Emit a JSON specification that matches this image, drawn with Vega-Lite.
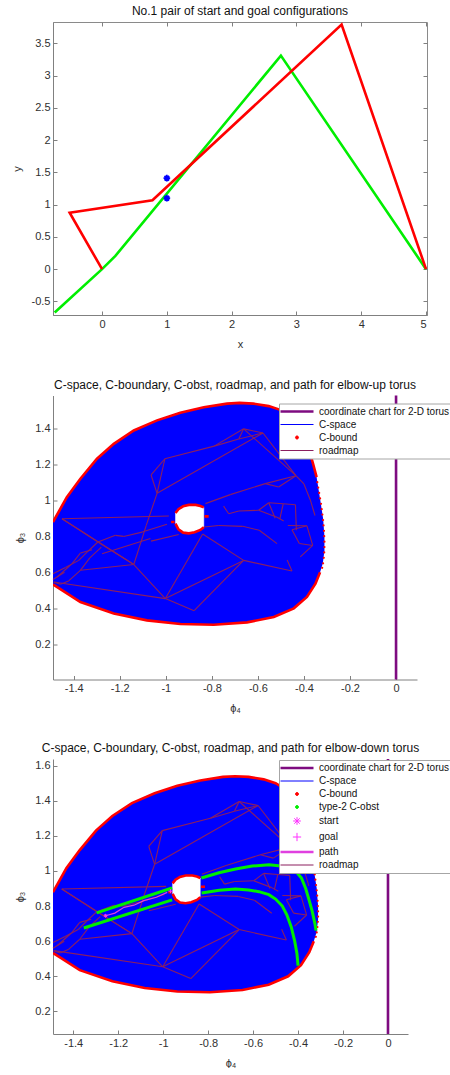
{
  "$schema": "https://vega.github.io/schema/vega-lite/v6.json",
  "background": "white",
  "padding": {"left": 10, "top": 4, "right": 0, "bottom": 0},
  "spacing": 28.5,
  "datasets": {
    "arm": [
      {"pose": "start", "i": 0, "x": -0.731, "y": -0.670},
      {"pose": "start", "i": 1, "x": 0, "y": 0},
      {"pose": "start", "i": 2, "x": 0.206, "y": 0.206},
      {"pose": "start", "i": 3, "x": 2.760, "y": 3.310},
      {"pose": "start", "i": 4, "x": 5, "y": 0},
      {"pose": "goal", "i": 0, "x": 0, "y": 0},
      {"pose": "goal", "i": 1, "x": -0.500, "y": 0.876},
      {"pose": "goal", "i": 2, "x": 0.778, "y": 1.067},
      {"pose": "goal", "i": 3, "x": 3.697, "y": 3.790},
      {"pose": "goal", "i": 4, "x": 5, "y": 0}
    ],
    "obstacles": [
      {"x": 1.0, "y": 1.41},
      {"x": 1.0, "y": 1.10}
    ],
    "cspace": [
      {"series": "C-space", "i": 1, "x": -1.490, "y": 0.879},
      {"series": "C-space", "i": 2, "x": -1.430, "y": 1.017},
      {"series": "C-space", "i": 3, "x": -1.371, "y": 1.119},
      {"series": "C-space", "i": 4, "x": -1.299, "y": 1.230},
      {"series": "C-space", "i": 5, "x": -1.226, "y": 1.313},
      {"series": "C-space", "i": 6, "x": -1.139, "y": 1.387},
      {"series": "C-space", "i": 7, "x": -1.038, "y": 1.443},
      {"series": "C-space", "i": 8, "x": -0.937, "y": 1.485},
      {"series": "C-space", "i": 9, "x": -0.835, "y": 1.516},
      {"series": "C-space", "i": 10, "x": -0.734, "y": 1.536},
      {"series": "C-space", "i": 11, "x": -0.680, "y": 1.540},
      {"series": "C-space", "i": 12, "x": -0.620, "y": 1.536},
      {"series": "C-space", "i": 13, "x": -0.553, "y": 1.522},
      {"series": "C-space", "i": 14, "x": -0.500, "y": 1.500},
      {"series": "C-space", "i": 15, "x": -0.450, "y": 1.460},
      {"series": "C-space", "i": 16, "x": -0.410, "y": 1.390},
      {"series": "C-space", "i": 17, "x": -0.380, "y": 1.290},
      {"series": "C-space", "i": 18, "x": -0.360, "y": 1.200},
      {"series": "C-space", "i": 19, "x": -0.345, "y": 1.128},
      {"series": "C-space", "i": 20, "x": -0.329, "y": 1.000},
      {"series": "C-space", "i": 21, "x": -0.317, "y": 0.900},
      {"series": "C-space", "i": 22, "x": -0.311, "y": 0.800},
      {"series": "C-space", "i": 23, "x": -0.311, "y": 0.720},
      {"series": "C-space", "i": 24, "x": -0.318, "y": 0.650},
      {"series": "C-space", "i": 25, "x": -0.330, "y": 0.600},
      {"series": "C-space", "i": 26, "x": -0.350, "y": 0.537},
      {"series": "C-space", "i": 27, "x": -0.387, "y": 0.463},
      {"series": "C-space", "i": 28, "x": -0.444, "y": 0.400},
      {"series": "C-space", "i": 29, "x": -0.531, "y": 0.352},
      {"series": "C-space", "i": 30, "x": -0.647, "y": 0.322},
      {"series": "C-space", "i": 31, "x": -0.792, "y": 0.309},
      {"series": "C-space", "i": 32, "x": -0.937, "y": 0.313},
      {"series": "C-space", "i": 33, "x": -1.082, "y": 0.333},
      {"series": "C-space", "i": 34, "x": -1.226, "y": 0.371},
      {"series": "C-space", "i": 35, "x": -1.371, "y": 0.435},
      {"series": "C-space", "i": 36, "x": -1.490, "y": 0.533}
    ],
    "hole": [
      {"i": 1, "x": -0.958, "y": 0.870},
      {"i": 2, "x": -0.958, "y": 0.929},
      {"i": 3, "x": -0.945, "y": 0.950},
      {"i": 4, "x": -0.925, "y": 0.966},
      {"i": 5, "x": -0.900, "y": 0.974},
      {"i": 6, "x": -0.870, "y": 0.974},
      {"i": 7, "x": -0.850, "y": 0.968},
      {"i": 8, "x": -0.835, "y": 0.960},
      {"i": 9, "x": -0.835, "y": 0.850},
      {"i": 10, "x": -0.850, "y": 0.835},
      {"i": 11, "x": -0.875, "y": 0.822},
      {"i": 12, "x": -0.900, "y": 0.816},
      {"i": 13, "x": -0.925, "y": 0.820},
      {"i": 14, "x": -0.945, "y": 0.838}
    ],
    "cbound": [
      {"series": "C-bound", "part": "outer-top", "i": 1, "x": -1.490, "y": 0.879},
      {"series": "C-bound", "part": "outer-top", "i": 2, "x": -1.430, "y": 1.017},
      {"series": "C-bound", "part": "outer-top", "i": 3, "x": -1.371, "y": 1.119},
      {"series": "C-bound", "part": "outer-top", "i": 4, "x": -1.299, "y": 1.230},
      {"series": "C-bound", "part": "outer-top", "i": 5, "x": -1.226, "y": 1.313},
      {"series": "C-bound", "part": "outer-top", "i": 6, "x": -1.139, "y": 1.387},
      {"series": "C-bound", "part": "outer-top", "i": 7, "x": -1.038, "y": 1.443},
      {"series": "C-bound", "part": "outer-top", "i": 8, "x": -0.937, "y": 1.485},
      {"series": "C-bound", "part": "outer-top", "i": 9, "x": -0.835, "y": 1.516},
      {"series": "C-bound", "part": "outer-top", "i": 10, "x": -0.734, "y": 1.536},
      {"series": "C-bound", "part": "outer-top", "i": 11, "x": -0.680, "y": 1.540},
      {"series": "C-bound", "part": "outer-top", "i": 12, "x": -0.620, "y": 1.536},
      {"series": "C-bound", "part": "outer-top", "i": 13, "x": -0.553, "y": 1.522},
      {"series": "C-bound", "part": "outer-top", "i": 14, "x": -0.500, "y": 1.500},
      {"series": "C-bound", "part": "outer-top", "i": 15, "x": -0.450, "y": 1.460},
      {"series": "C-bound", "part": "outer-top", "i": 16, "x": -0.410, "y": 1.390},
      {"series": "C-bound", "part": "outer-top", "i": 17, "x": -0.380, "y": 1.290},
      {"series": "C-bound", "part": "outer-top", "i": 18, "x": -0.360, "y": 1.200},
      {"series": "C-bound", "part": "outer-top", "i": 19, "x": -0.345, "y": 1.128},
      {"series": "C-bound", "part": "outer-bottom", "i": 25, "x": -0.330, "y": 0.600},
      {"series": "C-bound", "part": "outer-bottom", "i": 26, "x": -0.350, "y": 0.537},
      {"series": "C-bound", "part": "outer-bottom", "i": 27, "x": -0.387, "y": 0.463},
      {"series": "C-bound", "part": "outer-bottom", "i": 28, "x": -0.444, "y": 0.400},
      {"series": "C-bound", "part": "outer-bottom", "i": 29, "x": -0.531, "y": 0.352},
      {"series": "C-bound", "part": "outer-bottom", "i": 30, "x": -0.647, "y": 0.322},
      {"series": "C-bound", "part": "outer-bottom", "i": 31, "x": -0.792, "y": 0.309},
      {"series": "C-bound", "part": "outer-bottom", "i": 32, "x": -0.937, "y": 0.313},
      {"series": "C-bound", "part": "outer-bottom", "i": 33, "x": -1.082, "y": 0.333},
      {"series": "C-bound", "part": "outer-bottom", "i": 34, "x": -1.226, "y": 0.371},
      {"series": "C-bound", "part": "outer-bottom", "i": 35, "x": -1.371, "y": 0.435},
      {"series": "C-bound", "part": "outer-bottom", "i": 36, "x": -1.490, "y": 0.533},
      {"series": "C-bound", "part": "hole-top", "i": 1, "x": -0.958, "y": 0.929},
      {"series": "C-bound", "part": "hole-top", "i": 2, "x": -0.945, "y": 0.950},
      {"series": "C-bound", "part": "hole-top", "i": 3, "x": -0.925, "y": 0.966},
      {"series": "C-bound", "part": "hole-top", "i": 4, "x": -0.900, "y": 0.974},
      {"series": "C-bound", "part": "hole-top", "i": 5, "x": -0.870, "y": 0.974},
      {"series": "C-bound", "part": "hole-top", "i": 6, "x": -0.850, "y": 0.968},
      {"series": "C-bound", "part": "hole-top", "i": 7, "x": -0.835, "y": 0.960},
      {"series": "C-bound", "part": "hole-bottom", "i": 1, "x": -0.835, "y": 0.850},
      {"series": "C-bound", "part": "hole-bottom", "i": 2, "x": -0.850, "y": 0.835},
      {"series": "C-bound", "part": "hole-bottom", "i": 3, "x": -0.875, "y": 0.822},
      {"series": "C-bound", "part": "hole-bottom", "i": 4, "x": -0.900, "y": 0.816},
      {"series": "C-bound", "part": "hole-bottom", "i": 5, "x": -0.925, "y": 0.820},
      {"series": "C-bound", "part": "hole-bottom", "i": 6, "x": -0.945, "y": 0.838},
      {"series": "C-bound", "part": "hole-bottom", "i": 7, "x": -0.958, "y": 0.870},
      {"series": "C-bound", "part": "dash-left", "i": 1, "x": -0.977, "y": 0.879},
      {"series": "C-bound", "part": "dash-left", "i": 2, "x": -0.962, "y": 0.879},
      {"series": "C-bound", "part": "dash-right", "i": 1, "x": -0.832, "y": 0.910},
      {"series": "C-bound", "part": "dash-right", "i": 2, "x": -0.814, "y": 0.910}
    ],
    "cboundDots": [
      {"series": "C-bound", "x": -0.342, "y": 1.100},
      {"series": "C-bound", "x": -0.338, "y": 1.070},
      {"series": "C-bound", "x": -0.334, "y": 1.040},
      {"series": "C-bound", "x": -0.330, "y": 1.010},
      {"series": "C-bound", "x": -0.326, "y": 0.980},
      {"series": "C-bound", "x": -0.323, "y": 0.950},
      {"series": "C-bound", "x": -0.320, "y": 0.920},
      {"series": "C-bound", "x": -0.317, "y": 0.890},
      {"series": "C-bound", "x": -0.315, "y": 0.860},
      {"series": "C-bound", "x": -0.313, "y": 0.830},
      {"series": "C-bound", "x": -0.312, "y": 0.800},
      {"series": "C-bound", "x": -0.311, "y": 0.770},
      {"series": "C-bound", "x": -0.311, "y": 0.740},
      {"series": "C-bound", "x": -0.312, "y": 0.710},
      {"series": "C-bound", "x": -0.314, "y": 0.680},
      {"series": "C-bound", "x": -0.317, "y": 0.650},
      {"series": "C-bound", "x": -0.321, "y": 0.625}
    ],
    "roadmap": [
      {"series": "roadmap", "x": -1.004, "y": 1.230, "x2": -0.790, "y2": 1.300},
      {"series": "roadmap", "x": -0.790, "y": 1.300, "x2": -0.662, "y2": 1.396},
      {"series": "roadmap", "x": -0.662, "y": 1.396, "x2": -0.578, "y2": 1.373},
      {"series": "roadmap", "x": -0.662, "y": 1.396, "x2": -0.683, "y2": 1.340},
      {"series": "roadmap", "x": -0.683, "y": 1.340, "x2": -0.578, "y2": 1.373},
      {"series": "roadmap", "x": -0.790, "y": 1.300, "x2": -0.683, "y2": 1.340},
      {"series": "roadmap", "x": -0.662, "y": 1.396, "x2": -0.435, "y2": 1.136},
      {"series": "roadmap", "x": -0.578, "y": 1.373, "x2": -0.435, "y2": 1.136},
      {"series": "roadmap", "x": -1.038, "y": 1.038, "x2": -0.578, "y2": 1.373},
      {"series": "roadmap", "x": -1.004, "y": 1.230, "x2": -1.064, "y2": 1.140},
      {"series": "roadmap", "x": -1.064, "y": 1.140, "x2": -1.038, "y2": 1.038},
      {"series": "roadmap", "x": -1.004, "y": 1.230, "x2": -1.038, "y2": 1.038},
      {"series": "roadmap", "x": -1.038, "y": 1.038, "x2": -1.085, "y2": 0.860},
      {"series": "roadmap", "x": -1.085, "y": 0.860, "x2": -1.139, "y2": 0.643},
      {"series": "roadmap", "x": -1.451, "y": 0.897, "x2": -0.987, "y2": 0.912},
      {"series": "roadmap", "x": -1.451, "y": 0.897, "x2": -1.295, "y2": 0.768},
      {"series": "roadmap", "x": -1.451, "y": 0.897, "x2": -1.139, "y2": 0.643},
      {"series": "roadmap", "x": -1.295, "y": 0.768, "x2": -1.139, "y2": 0.643},
      {"series": "roadmap", "x": -1.139, "y": 0.643, "x2": -1.371, "y2": 0.611},
      {"series": "roadmap", "x": -1.139, "y": 0.643, "x2": -1.002, "y2": 0.454},
      {"series": "roadmap", "x": -1.487, "y": 0.546, "x2": -1.002, "y2": 0.454},
      {"series": "roadmap", "x": -1.002, "y": 0.454, "x2": -0.877, "y2": 0.387},
      {"series": "roadmap", "x": -1.002, "y": 0.454, "x2": -0.662, "y2": 0.666},
      {"series": "roadmap", "x": -0.877, "y": 0.387, "x2": -0.662, "y2": 0.666},
      {"series": "roadmap", "x": -1.002, "y": 0.454, "x2": -0.840, "y2": 0.812},
      {"series": "roadmap", "x": -0.840, "y": 0.812, "x2": -0.662, "y2": 0.666},
      {"series": "roadmap", "x": -0.662, "y": 0.666, "x2": -0.452, "y2": 0.607},
      {"series": "roadmap", "x": -0.473, "y": 0.668, "x2": -0.452, "y2": 0.607},
      {"series": "roadmap", "x": -1.295, "y": 0.768, "x2": -1.219, "y2": 0.805},
      {"series": "roadmap", "x": -1.219, "y": 0.805, "x2": -1.183, "y2": 0.799},
      {"series": "roadmap", "x": -1.183, "y": 0.799, "x2": -1.103, "y2": 0.823},
      {"series": "roadmap", "x": -1.103, "y": 0.823, "x2": -0.995, "y2": 0.866},
      {"series": "roadmap", "x": -1.277, "y": 0.703, "x2": -1.067, "y2": 0.787},
      {"series": "roadmap", "x": -1.064, "y": 0.773, "x2": -0.944, "y2": 0.810},
      {"series": "roadmap", "x": -1.490, "y": 0.592, "x2": -1.436, "y2": 0.626},
      {"series": "roadmap", "x": -1.436, "y": 0.626, "x2": -1.378, "y2": 0.666},
      {"series": "roadmap", "x": -1.378, "y": 0.666, "x2": -1.342, "y2": 0.712},
      {"series": "roadmap", "x": -1.342, "y": 0.712, "x2": -1.295, "y2": 0.768},
      {"series": "roadmap", "x": -1.487, "y": 0.546, "x2": -1.458, "y2": 0.533},
      {"series": "roadmap", "x": -1.458, "y": 0.533, "x2": -1.422, "y2": 0.552},
      {"series": "roadmap", "x": -1.422, "y": 0.552, "x2": -1.371, "y2": 0.611},
      {"series": "roadmap", "x": -1.371, "y": 0.611, "x2": -1.330, "y2": 0.680},
      {"series": "roadmap", "x": -1.330, "y": 0.680, "x2": -1.280, "y2": 0.740},
      {"series": "roadmap", "x": -1.472, "y": 0.574, "x2": -1.407, "y2": 0.648},
      {"series": "roadmap", "x": -1.407, "y": 0.648, "x2": -1.371, "y2": 0.707},
      {"series": "roadmap", "x": -1.371, "y": 0.707, "x2": -1.320, "y2": 0.725},
      {"series": "roadmap", "x": -1.490, "y": 0.560, "x2": -1.440, "y2": 0.600},
      {"series": "roadmap", "x": -0.828, "y": 0.981, "x2": -0.720, "y2": 1.031},
      {"series": "roadmap", "x": -0.720, "y": 1.031, "x2": -0.568, "y2": 1.092},
      {"series": "roadmap", "x": -0.568, "y": 1.092, "x2": -0.510, "y2": 1.073},
      {"series": "roadmap", "x": -0.510, "y": 1.073, "x2": -0.435, "y2": 1.136},
      {"series": "roadmap", "x": -0.568, "y": 1.092, "x2": -0.435, "y2": 1.136},
      {"series": "roadmap", "x": -0.435, "y": 1.136, "x2": -0.400, "y2": 1.090},
      {"series": "roadmap", "x": -0.400, "y": 1.090, "x2": -0.372, "y2": 1.000},
      {"series": "roadmap", "x": -0.372, "y": 1.000, "x2": -0.352, "y2": 0.915},
      {"series": "roadmap", "x": -0.749, "y": 0.967, "x2": -0.727, "y2": 0.925},
      {"series": "roadmap", "x": -0.727, "y": 0.925, "x2": -0.683, "y2": 0.940},
      {"series": "roadmap", "x": -0.683, "y": 0.940, "x2": -0.597, "y2": 0.944},
      {"series": "roadmap", "x": -0.597, "y": 0.944, "x2": -0.553, "y2": 0.986},
      {"series": "roadmap", "x": -0.553, "y": 0.986, "x2": -0.490, "y2": 0.980},
      {"series": "roadmap", "x": -0.490, "y": 0.980, "x2": -0.437, "y2": 0.975},
      {"series": "roadmap", "x": -0.437, "y": 0.975, "x2": -0.433, "y2": 0.833},
      {"series": "roadmap", "x": -0.597, "y": 0.944, "x2": -0.517, "y2": 0.905},
      {"series": "roadmap", "x": -0.517, "y": 0.905, "x2": -0.488, "y2": 0.884},
      {"series": "roadmap", "x": -0.553, "y": 0.986, "x2": -0.525, "y2": 0.900},
      {"series": "roadmap", "x": -0.490, "y": 0.980, "x2": -0.505, "y2": 0.895},
      {"series": "roadmap", "x": -0.470, "y": 0.860, "x2": -0.387, "y2": 0.858},
      {"series": "roadmap", "x": -0.387, "y": 0.858, "x2": -0.362, "y2": 0.749},
      {"series": "roadmap", "x": -0.362, "y": 0.749, "x2": -0.416, "y2": 0.685},
      {"series": "roadmap", "x": -0.387, "y": 0.858, "x2": -0.452, "y2": 0.836},
      {"series": "roadmap", "x": -0.452, "y": 0.836, "x2": -0.420, "y2": 0.760},
      {"series": "roadmap", "x": -0.420, "y": 0.760, "x2": -0.362, "y2": 0.749},
      {"series": "roadmap", "x": -0.835, "y": 0.851, "x2": -0.770, "y2": 0.860},
      {"series": "roadmap", "x": -0.770, "y": 0.860, "x2": -0.666, "y2": 0.855},
      {"series": "roadmap", "x": -0.666, "y": 0.855, "x2": -0.594, "y2": 0.833},
      {"series": "roadmap", "x": -0.594, "y": 0.833, "x2": -0.517, "y2": 0.759}
    ],
    "chart": [
      {"series": "coordinate chart for 2-D torus", "i": 0, "x": 0, "y": -1},
      {"series": "coordinate chart for 2-D torus", "i": 1, "x": 0, "y": 3}
    ],
    "obst2": [
      {"series": "type-2 C-obst", "part": "upper-left", "i": 1, "x": -1.296, "y": 0.761},
      {"series": "type-2 C-obst", "part": "upper-left", "i": 2, "x": -0.960, "y": 0.903},
      {"series": "type-2 C-obst", "part": "lower-left", "i": 1, "x": -1.353, "y": 0.675},
      {"series": "type-2 C-obst", "part": "lower-left", "i": 2, "x": -0.960, "y": 0.835},
      {"series": "type-2 C-obst", "part": "upper-right", "i": 1, "x": -0.830, "y": 0.960},
      {"series": "type-2 C-obst", "part": "upper-right", "i": 2, "x": -0.752, "y": 0.990},
      {"series": "type-2 C-obst", "part": "upper-right", "i": 3, "x": -0.678, "y": 1.011},
      {"series": "type-2 C-obst", "part": "upper-right", "i": 4, "x": -0.604, "y": 1.028},
      {"series": "type-2 C-obst", "part": "upper-right", "i": 5, "x": -0.529, "y": 1.035},
      {"series": "type-2 C-obst", "part": "upper-right", "i": 6, "x": -0.455, "y": 1.025},
      {"series": "type-2 C-obst", "part": "upper-right", "i": 7, "x": -0.411, "y": 1.000},
      {"series": "type-2 C-obst", "part": "upper-right", "i": 8, "x": -0.385, "y": 0.960},
      {"series": "type-2 C-obst", "part": "upper-right", "i": 9, "x": -0.366, "y": 0.900},
      {"series": "type-2 C-obst", "part": "upper-right", "i": 10, "x": -0.350, "y": 0.830},
      {"series": "type-2 C-obst", "part": "upper-right", "i": 11, "x": -0.337, "y": 0.770},
      {"series": "type-2 C-obst", "part": "upper-right", "i": 12, "x": -0.325, "y": 0.700},
      {"series": "type-2 C-obst", "part": "upper-right", "i": 13, "x": -0.320, "y": 0.660},
      {"series": "type-2 C-obst", "part": "lower-right", "i": 1, "x": -0.829, "y": 0.875},
      {"series": "type-2 C-obst", "part": "lower-right", "i": 2, "x": -0.750, "y": 0.890},
      {"series": "type-2 C-obst", "part": "lower-right", "i": 3, "x": -0.678, "y": 0.897},
      {"series": "type-2 C-obst", "part": "lower-right", "i": 4, "x": -0.620, "y": 0.892},
      {"series": "type-2 C-obst", "part": "lower-right", "i": 5, "x": -0.574, "y": 0.882},
      {"series": "type-2 C-obst", "part": "lower-right", "i": 6, "x": -0.530, "y": 0.865},
      {"series": "type-2 C-obst", "part": "lower-right", "i": 7, "x": -0.500, "y": 0.840},
      {"series": "type-2 C-obst", "part": "lower-right", "i": 8, "x": -0.470, "y": 0.800},
      {"series": "type-2 C-obst", "part": "lower-right", "i": 9, "x": -0.450, "y": 0.750},
      {"series": "type-2 C-obst", "part": "lower-right", "i": 10, "x": -0.430, "y": 0.680},
      {"series": "type-2 C-obst", "part": "lower-right", "i": 11, "x": -0.415, "y": 0.600},
      {"series": "type-2 C-obst", "part": "lower-right", "i": 12, "x": -0.405, "y": 0.530},
      {"series": "type-2 C-obst", "part": "lower-right", "i": 13, "x": -0.400, "y": 0.460}
    ],
    "path": [
      {"series": "path", "i": 1, "x": -1.256, "y": 0.745},
      {"series": "path", "i": 2, "x": -1.215, "y": 0.760},
      {"series": "path", "i": 3, "x": -1.174, "y": 0.793},
      {"series": "path", "i": 4, "x": -1.130, "y": 0.805},
      {"series": "path", "i": 5, "x": -1.086, "y": 0.831},
      {"series": "path", "i": 6, "x": -1.030, "y": 0.850},
      {"series": "path", "i": 7, "x": -0.982, "y": 0.878}
    ],
    "ends": [
      {"series": "start", "x": -1.256, "y": 0.745},
      {"series": "goal", "x": -0.967, "y": 0.885}
    ]
  },
  "vconcat": [
    {
      "width": 374,
      "height": 293,
      "title": "No.1 pair of start and goal configurations",
      "view": {"stroke": "#8a8a8a", "strokeWidth": 1},
      "encoding": {
        "x": {"field": "x", "type": "quantitative", "scale": {"domain": [-0.757, 5.015], "nice": false, "zero": false},
              "axis": {"title": "x", "values": [0, 1, 2, 3, 4, 5], "labelExpr": "'' + datum.value"}},
        "y": {"field": "y", "type": "quantitative", "scale": {"domain": [-0.71, 3.83], "nice": false, "zero": false},
              "axis": {"title": "y", "values": [-0.5, 0, 0.5, 1, 1.5, 2, 2.5, 3, 3.5], "labelExpr": "'' + datum.value"}}
      },
      "layer": [
        {
          "data": {"name": "arm"},
          "mark": {"type": "line", "strokeWidth": 2.6, "clip": true},
          "encoding": {
            "color": {"field": "pose", "type": "nominal", "scale": {"domain": ["start", "goal"], "range": ["#00ee00", "#ff0000"]}, "legend": null},
            "order": {"field": "i"}
          }
        },
        {
          "data": {"name": "obstacles"},
          "mark": {"type": "point", "shape": "M-1,0L1,0M0,-1L0,1M-0.7,-0.7L0.7,0.7M-0.7,0.7L0.7,-0.7", "size": 44, "filled": false, "stroke": "#0000ff", "strokeWidth": 1.8, "opacity": 1},
          "encoding": {
            "x": {"field": "x", "type": "quantitative",
                  "axis": {"orient": "top", "title": null, "labels": false, "domain": false, "values": [0, 1, 2, 3, 4, 5]}},
            "y": {"field": "y", "type": "quantitative",
                  "axis": {"orient": "right", "title": null, "labels": false, "domain": false, "values": [-0.5, 0, 0.5, 1, 1.5, 2, 2.5, 3, 3.5]}}
          }
        }
      ],
      "resolve": {"axis": {"x": "independent", "y": "independent"}}
    },
    {
      "width": 364,
      "height": 284,
      "title": "C-space, C-boundary, C-obst, roadmap, and path for elbow-up torus",
      "encoding": {
        "x": {"field": "x", "type": "quantitative", "scale": {"domain": [-1.49, 0.091], "nice": false, "zero": false},
              "axis": {"title": "ϕ₄", "values": [-1.4, -1.2, -1, -0.8, -0.6, -0.4, -0.2, 0], "labelExpr": "'' + datum.value"}},
        "y": {"field": "y", "type": "quantitative", "scale": {"domain": [0.005, 1.581], "nice": false, "zero": false},
              "axis": {"title": "ϕ₃", "values": [0.2, 0.4, 0.6, 0.8, 1, 1.2, 1.4], "labelExpr": "'' + datum.value"}}
      },
      "layer": [
        {
          "data": {"name": "cspace"},
          "mark": {"type": "line", "filled": true, "strokeWidth": 0, "clip": true},
          "encoding": {
            "color": {"field": "series", "type": "nominal",
                      "scale": {"domain": ["coordinate chart for 2-D torus", "C-space", "C-bound", "roadmap"], "range": ["#7e0b80", "#0000ff", "#ff0000", "#8b1f5f"]},
                      "legend": {"legendX": 226, "legendY": 8,
                        "encode": {"symbols": {"update": {
                          "shape": {"signal": "datum.value === 'C-bound' || datum.value === 'type-2 C-obst' ? 'M-0.28,0a0.28,0.28 0 1,0 0.56,0a0.28,0.28 0 1,0 -0.56,0' : datum.value === 'start' ? 'M-0.7,0L0.7,0M0,-0.7L0,0.7M-0.5,-0.5L0.5,0.5M-0.5,0.5L0.5,-0.5' : datum.value === 'goal' ? 'M-0.75,0L0.75,0M0,-0.75L0,0.75' : 'M-3,0L3,0'"},
                          "fill": {"signal": "datum.value === 'C-bound' ? '#ff0000' : datum.value === 'type-2 C-obst' ? '#00ff00' : 'transparent'"},
                          "stroke": {"signal": "datum.value === 'coordinate chart for 2-D torus' ? '#7e0b80' : datum.value === 'C-space' ? '#3c3cff' : datum.value === 'roadmap' ? '#9a3d8e' : datum.value === 'path' ? '#ff1f8f' : datum.value === 'start' || datum.value === 'goal' ? '#ff3cff' : 'transparent'"},
                          "strokeWidth": {"signal": "datum.value === 'coordinate chart for 2-D torus' || datum.value === 'path' ? 2.5 : 1"},
                          "opacity": {"value": 1}
                        }}}}},
            "order": {"field": "i"}
          }
        },
        {
          "data": {"name": "hole"},
          "mark": {"type": "line", "fill": "#ffffff", "stroke": "#ffffff", "strokeWidth": 0.5},
          "encoding": {"order": {"field": "i"}}
        },
        {
          "data": {"name": "roadmap"},
          "mark": {"type": "rule", "strokeWidth": 1.1},
          "encoding": {"x2": {"field": "x2"}, "y2": {"field": "y2"}, "color": {"field": "series", "type": "nominal"}}
        },
        {
          "data": {"name": "cbound"},
          "mark": {"type": "line", "strokeWidth": 2.6, "clip": true},
          "encoding": {"detail": {"field": "part"}, "order": {"field": "i"}, "color": {"field": "series", "type": "nominal"}}
        },
        {
          "data": {"name": "cboundDots"},
          "mark": {"type": "circle", "size": 5, "opacity": 1},
          "encoding": {"color": {"field": "series", "type": "nominal"}}
        },
        {
          "data": {"name": "chart"},
          "mark": {"type": "line", "strokeWidth": 2.6, "clip": true},
          "encoding": {"order": {"field": "i"}, "color": {"field": "series", "type": "nominal"}}
        }
      ]
    },
    {
      "width": 355,
      "height": 275,
      "title": "C-space, C-boundary, C-obst, roadmap, and path for elbow-down torus",
      "encoding": {
        "x": {"field": "x", "type": "quantitative", "scale": {"domain": [-1.49, 0.089], "nice": false, "zero": false},
              "axis": {"title": "ϕ₄", "values": [-1.4, -1.2, -1, -0.8, -0.6, -0.4, -0.2, 0], "labelExpr": "'' + datum.value"}},
        "y": {"field": "y", "type": "quantitative", "scale": {"domain": [0.071, 1.638], "nice": false, "zero": false},
              "axis": {"title": "ϕ₃", "values": [0.2, 0.4, 0.6, 0.8, 1, 1.2, 1.4, 1.6], "labelExpr": "'' + datum.value"}}
      },
      "layer": [
        {
          "data": {"name": "cspace"},
          "mark": {"type": "line", "filled": true, "strokeWidth": 0, "clip": true},
          "encoding": {
            "color": {"field": "series", "type": "nominal",
                      "scale": {"domain": ["coordinate chart for 2-D torus", "C-space", "C-bound", "type-2 C-obst", "start", "goal", "path", "roadmap"],
                                "range": ["#7e0b80", "#0000ff", "#ff0000", "#00ee00", "#ff33ff", "#ff33ff", "#e040e0", "#8b1f5f"]},
                      "legend": {"legendX": 226, "legendY": 1,
                        "encode": {"symbols": {"update": {
                          "shape": {"signal": "datum.value === 'C-bound' || datum.value === 'type-2 C-obst' ? 'M-0.28,0a0.28,0.28 0 1,0 0.56,0a0.28,0.28 0 1,0 -0.56,0' : datum.value === 'start' ? 'M-0.7,0L0.7,0M0,-0.7L0,0.7M-0.5,-0.5L0.5,0.5M-0.5,0.5L0.5,-0.5' : datum.value === 'goal' ? 'M-0.75,0L0.75,0M0,-0.75L0,0.75' : 'M-3,0L3,0'"},
                          "fill": {"signal": "datum.value === 'C-bound' ? '#ff0000' : datum.value === 'type-2 C-obst' ? '#00ff00' : 'transparent'"},
                          "stroke": {"signal": "datum.value === 'coordinate chart for 2-D torus' ? '#7e0b80' : datum.value === 'C-space' ? '#3c3cff' : datum.value === 'roadmap' ? '#9a3d8e' : datum.value === 'path' ? '#ff1f8f' : datum.value === 'start' || datum.value === 'goal' ? '#ff3cff' : 'transparent'"},
                          "strokeWidth": {"signal": "datum.value === 'coordinate chart for 2-D torus' || datum.value === 'path' ? 2.5 : 1"},
                          "opacity": {"value": 1}
                        }}}}},
            "order": {"field": "i"}
          }
        },
        {
          "data": {"name": "hole"},
          "mark": {"type": "line", "fill": "#ffffff", "stroke": "#ffffff", "strokeWidth": 0.5},
          "encoding": {"order": {"field": "i"}}
        },
        {
          "data": {"name": "roadmap"},
          "mark": {"type": "rule", "strokeWidth": 1.1},
          "encoding": {"x2": {"field": "x2"}, "y2": {"field": "y2"}, "color": {"field": "series", "type": "nominal"}}
        },
        {
          "data": {"name": "cbound"},
          "mark": {"type": "line", "strokeWidth": 2.6, "clip": true},
          "encoding": {"detail": {"field": "part"}, "order": {"field": "i"}, "color": {"field": "series", "type": "nominal"}}
        },
        {
          "data": {"name": "cboundDots"},
          "mark": {"type": "circle", "size": 5, "opacity": 1},
          "encoding": {"color": {"field": "series", "type": "nominal"}}
        },
        {
          "data": {"name": "obst2"},
          "mark": {"type": "line", "strokeWidth": 3},
          "encoding": {"detail": {"field": "part"}, "order": {"field": "i"}, "color": {"field": "series", "type": "nominal"}}
        },
        {
          "data": {"name": "path"},
          "mark": {"type": "line", "strokeWidth": 1.2},
          "encoding": {"order": {"field": "i"}, "color": {"field": "series", "type": "nominal"}}
        },
        {
          "data": {"name": "ends"},
          "mark": {"type": "point", "filled": false, "size": 30, "strokeWidth": 1, "opacity": 1},
          "encoding": {
            "color": {"field": "series", "type": "nominal"},
            "shape": {"field": "series", "type": "nominal",
                      "scale": {"domain": ["start", "goal"], "range": ["M-0.7,0L0.7,0M0,-0.7L0,0.7M-0.5,-0.5L0.5,0.5M-0.5,0.5L0.5,-0.5", "M-0.75,0L0.75,0M0,-0.75L0,0.75"]},
                      "legend": null}
          }
        },
        {
          "data": {"name": "chart"},
          "mark": {"type": "line", "strokeWidth": 2.6, "clip": true},
          "encoding": {"order": {"field": "i"}, "color": {"field": "series", "type": "nominal"}}
        }
      ]
    }
  ],
  "resolve": {"scale": {"color": "independent"}, "legend": {"color": "independent"}},
  "config": {
    "font": "Liberation Sans",
    "view": {"stroke": null},
    "axis": {
      "grid": false,
      "tickSize": -4,
      "labelPadding": 7,
      "titlePadding": 9,
      "domainColor": "#808080",
      "tickColor": "#808080",
      "domainWidth": 1,
      "tickWidth": 1,
      "labelFont": "Liberation Sans",
      "labelFontSize": 11,
      "labelColor": "#303030",
      "titleFont": "Liberation Sans",
      "titleFontSize": 11,
      "titleFontWeight": "normal",
      "titleColor": "#303030"
    },
    "title": {"font": "Liberation Sans", "fontSize": 12, "fontWeight": "normal", "color": "#111111", "offset": 4},
    "legend": {
      "orient": "none",
      "title": null,
      "fillColor": "#ffffff",
      "strokeColor": "#a6a6a6",
      "padding": 3,
      "rowPadding": 3,
      "symbolSize": 121,
      "symbolOffset": 10,
      "labelOffset": 17,
      "labelFont": "Liberation Sans",
      "labelFontSize": 10,
      "labelColor": "#111111",
      "labelLimit": 200
    }
  }
}
